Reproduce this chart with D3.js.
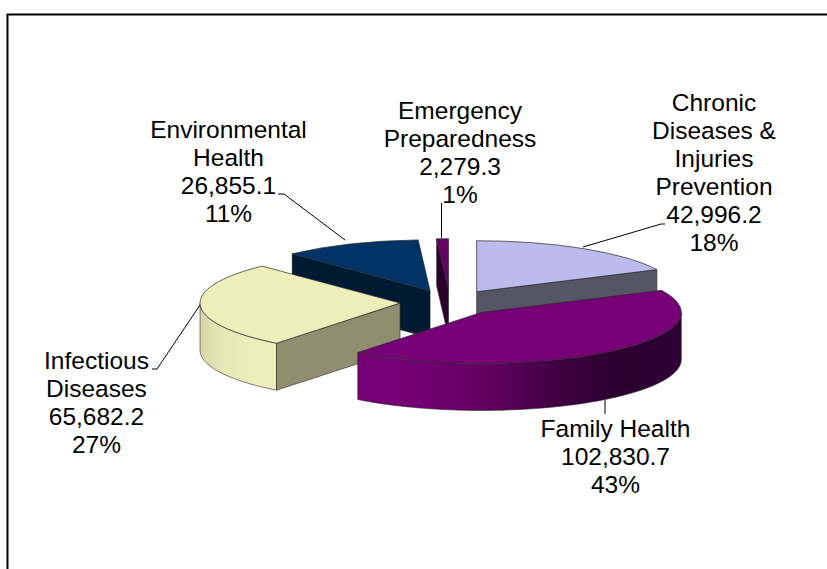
<!DOCTYPE html>
<html>
<head>
<meta charset="utf-8">
<script src="https://cdn.jsdelivr.net/npm/d3@7"></script>
<style>
  html, body { margin: 0; padding: 0; background: #fff; }
  svg { display: block; }
  text { font-family: "Liberation Sans", Arial, sans-serif; font-size: 24.5px; fill: #000; }
</style>
</head>
<body>
<div id="chart"></div>
<script>
const categories = [
  ["Chronic", "Diseases &", "Injuries", "Prevention"],
  ["Family Health"],
  ["Infectious", "Diseases"],
  ["Environmental", "Health"],
  ["Emergency", "Preparedness"]
];
const amounts = [42996.2, 102830.7, 65682.2, 26855.1, 2279.3];
const amountLabels = ["42,996.2", "102,830.7", "65,682.2", "26,855.1", "2,279.3"];
const percentLabels = ["18%", "43%", "27%", "11%", "1%"];

const topColours = ["#bbbbee", "#770077", "#eeeebb", "#003366", "#660066"];
const cutColours = ["#555566", "#330033", "#8f8f70", "#001a33", "#2c002c"];
const wallStops = [
  null,
  ["#770077", "#720072", "#620060", "#420045", "#2c0030", "#2e0035"],
  ["#d6d6a8", "#e8e8b8", "#eeeebb", "#eeeebb"],
  null,
  null
];
const labelCentres = [714, 615.5, 96.5, 228.5, 460];
const labelBaselines = [110.5, 436.7, 368.7, 138.3, 119.3];
const leaders = [
  [[583, 247], [661, 224], [665, 224]],
  [[605, 400], [605, 414]],
  [[200, 305], [157, 369], [152, 369]],
  [[345, 240], [284, 194], [278, 194]],
  [[441.5, 238], [441.5, 203]]
];

const width = 827, height = 569;
const rx = 200, ry = 51, depth = 47;
const cx = 450, cy = 302.5, explode = 0.25;
const lineHeight = 28;

const svg = d3.select("#chart").append("svg")
  .attr("width", width)
  .attr("height", height);

svg.append("path")
  .attr("d", `M7.5,${height}V14.5H${width}`)
  .attr("fill", "none")
  .attr("stroke", "#000")
  .attr("stroke-width", 2);

const pie = d3.pie().sort(null);
const slices = pie(amounts);
const arc = d3.arc().innerRadius(0).outerRadius(rx);
const line = d3.line();
const defs = svg.append("defs");

function point(angle, lift) {
  return [rx * Math.sin(angle), -ry * Math.cos(angle) + lift];
}

function cutFace(angle) {
  return line([[0, 0], point(angle, 0), point(angle, depth), [0, depth]]) + "Z";
}

function drawSlice(d) {
  const mid = (d.startAngle + d.endAngle) / 2;
  const g = svg.append("g")
    .attr("transform", `translate(${cx + explode * rx * Math.sin(mid)},${cy - explode * ry * Math.cos(mid)})`);
  const edge = "#2a2a2a";

  // outer wall, only the part that faces the viewer
  const from = Math.max(d.startAngle, Math.PI / 2);
  const to = Math.min(d.endAngle, Math.PI * 1.5);
  if (to > from && wallStops[d.index]) {
    const angles = d3.range(from, to, 0.02).concat([to]);
    const front = angles.map(a => point(a, 0));
    const [left, right] = d3.extent(front, p => p[0]);
    const id = "wall" + d.index;
    const grad = defs.append("linearGradient")
      .attr("id", id)
      .attr("gradientUnits", "userSpaceOnUse")
      .attr("x1", left).attr("x2", right)
      .attr("y1", 0).attr("y2", 0);
    wallStops[d.index].forEach((c, i, all) => {
      grad.append("stop").attr("offset", i / (all.length - 1)).attr("stop-color", c);
    });
    const outline = front.concat(angles.slice().reverse().map(a => point(a, depth)));
    g.append("path")
      .attr("d", line(outline) + "Z")
      .attr("fill", `url(#${id})`)
      .attr("stroke", edge).attr("stroke-width", 0.6);
  }

  // flat cut faces
  if (Math.sin(d.startAngle) < -1e-6) {
    g.append("path").attr("d", cutFace(d.startAngle))
      .attr("fill", cutColours[d.index])
      .attr("stroke", edge).attr("stroke-width", 0.6);
  }
  if (Math.sin(d.endAngle) > 1e-6) {
    g.append("path").attr("d", cutFace(d.endAngle))
      .attr("fill", cutColours[d.index])
      .attr("stroke", edge).attr("stroke-width", 0.6);
  }

  // top surface
  g.append("path")
    .attr("d", arc(d))
    .attr("transform", `scale(1,${ry / rx})`)
    .attr("fill", topColours[d.index])
    .attr("stroke", edge)
    .attr("stroke-width", 0.7)
    .attr("vector-effect", "non-scaling-stroke");
}

// back slices first, front slices over them
[3, 4, 0, 2, 1].forEach(i => drawSlice(slices[i]));

svg.append("g").selectAll("path")
  .data(leaders)
  .join("path")
  .attr("d", d => line(d))
  .attr("fill", "none")
  .attr("stroke", "#000")
  .attr("stroke-width", 1);

categories.forEach((names, i) => {
  const lines = names.concat([amountLabels[i], percentLabels[i]]);
  svg.append("text")
    .attr("text-anchor", "middle")
    .selectAll("tspan")
    .data(lines)
    .join("tspan")
    .attr("x", labelCentres[i])
    .attr("y", (d, j) => labelBaselines[i] + j * lineHeight)
    .text(d => d);
});
</script>
</body>
</html>
